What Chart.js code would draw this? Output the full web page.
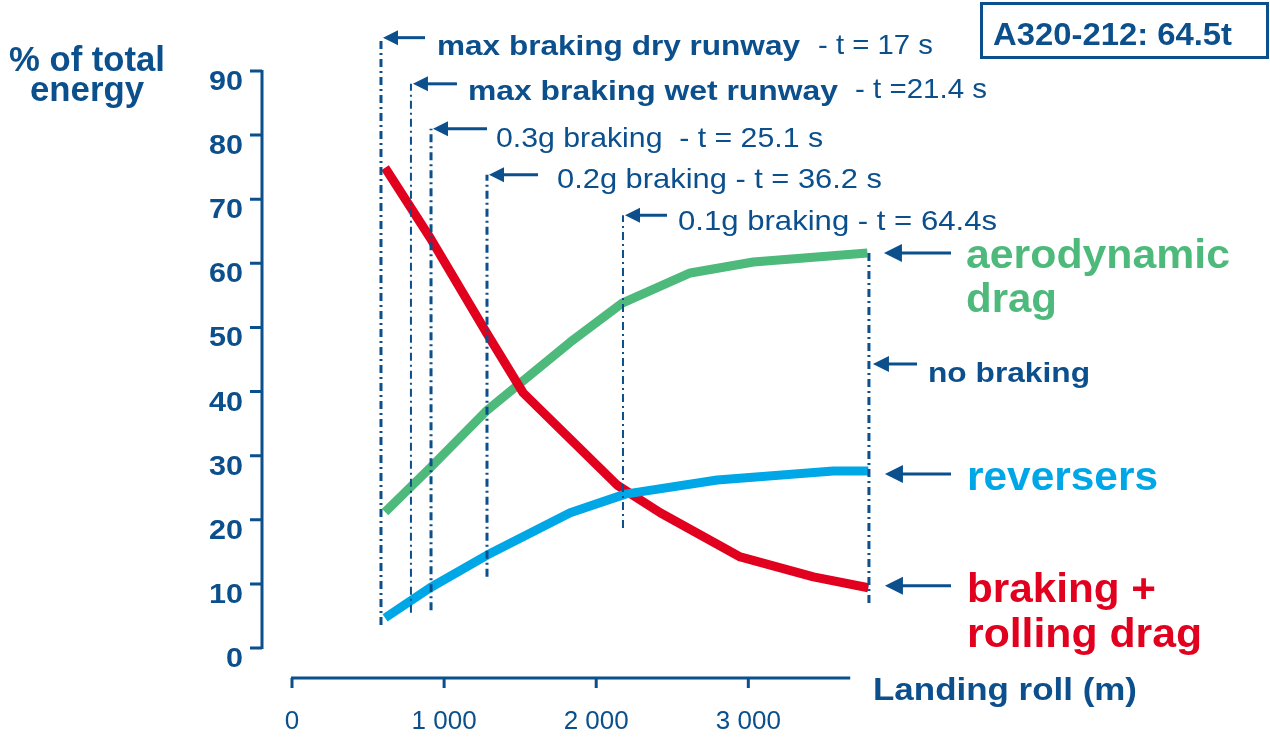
<!DOCTYPE html>
<html>
<head>
<meta charset="utf-8">
<title>A320 landing roll energy</title>
<script src="https://cdn.jsdelivr.net/npm/chart.js@4/dist/chart.umd.min.js"></script>
<style>
  html, body { margin: 0; padding: 0; background: #fff; }
  #wrap { width: 1270px; height: 742px; position: relative; }
</style>
</head>
<body>
<div id="wrap"><canvas id="energyChart"></canvas></div>
<script>
// landing roll (m) / % of total energy
const brakingX = [612, 908, 1283, 1520, 2138, 2421, 2947, 3428, 3789];
const brakingY = [74.9, 64.0, 49.0, 39.8, 25.4, 21.1, 14.2, 11.1, 9.4];
const aeroX = [612, 908, 1283, 1829, 2171, 2618, 3033, 3783];
const aeroY = [21.2, 28.1, 37.1, 47.7, 53.8, 58.5, 60.2, 61.6];
const reverserX = [612, 908, 1283, 1829, 2191, 2796, 3559, 3789];
const reverserY = [4.7, 9.4, 14.5, 21.1, 24.0, 26.2, 27.6, 27.6];

// stop distances for each braking mode (dash-dot markers)
const markerNames = ['max braking dry runway', 'max braking wet runway', '0.3g braking', '0.2g braking', '0.1g braking', 'no braking'];
const markerX = [585, 782, 914, 1282, 2176, 3793];
const markerTop = [95.2, 88.0, 81.0, 73.8, 67.5, 61.6];
const markerBottom = [3.6, 5.5, 5.9, 11.1, 18.7, 7.0];
const markerTimes = ['- t = 17 s', '- t =21.4 s', '- t = 25.1 s', '- t = 36.2 s', '- t = 64.4s', ''];

const yTicks = [0, 10, 20, 30, 40, 50, 60, 70, 80, 90];
const xTicks = [0, 1000, 2000, 3000];
const xTickLabels = ['0', '1 000', '2 000', '3 000'];

const NAVY = '#0b4f8c';
const RED = '#e2001f';
const GREEN = '#4db97a';
const BLUE = '#00a7e7';
const FONT = '"Liberation Sans", Arial, sans-serif';

function pts(xs, ys) { return xs.map((x, i) => ({ x: x, y: ys[i] })); }

function fitText(ctx, s, x, y, size, bold, color, width, align) {
  ctx.save();
  ctx.font = (bold ? 'bold ' : '') + size + 'px ' + FONT;
  ctx.fillStyle = color;
  ctx.textBaseline = 'alphabetic';
  ctx.textAlign = 'left';
  const w = ctx.measureText(s).width;
  const sx = width ? width / w : 1;
  let left = x;
  if (align === 'center') left = x - w * sx / 2;
  else if (align === 'right') left = x - w * sx;
  ctx.translate(left, y);
  ctx.scale(sx, 1);
  ctx.fillText(s, 0, 0);
  ctx.restore();
}

function arrow(ctx, tipX, y, tailX, head) {
  ctx.save();
  ctx.strokeStyle = NAVY;
  ctx.fillStyle = NAVY;
  ctx.lineWidth = 3;
  ctx.beginPath();
  ctx.moveTo(tipX + head - 2, y);
  ctx.lineTo(tailX, y);
  ctx.stroke();
  ctx.beginPath();
  ctx.moveTo(tipX, y);
  ctx.lineTo(tipX + head, y - head * 0.5);
  ctx.lineTo(tipX + head, y + head * 0.5);
  ctx.closePath();
  ctx.fill();
  ctx.restore();
}

const markerSets = markerX.map((mx, i) => ({
  label: markerNames[i],
  data: [{ x: mx, y: markerBottom[i] }, { x: mx, y: markerTop[i] }],
  borderColor: NAVY,
  borderWidth: (i === 1 || i === 4) ? 2 : 3,
  borderDash: [8, 4, 2, 4],
  pointRadius: 0,
  clip: false,
  order: 0,
}));

const slidePlugin = {
  id: 'slide',
  afterDatasetsDraw(chart) {
    const ctx = chart.ctx;
    const xs = chart.scales.x, ys = chart.scales.y;
    const area = chart.chartArea;
    const yAxisX = area.left - 30;
    const xAxisY = area.bottom + 30;

    ctx.save();
    ctx.strokeStyle = NAVY;
    ctx.lineWidth = 3;
    ctx.lineCap = 'butt';
    // y axis with ticks on the left
    ctx.beginPath();
    ctx.moveTo(yAxisX, ys.getPixelForValue(90) - 1);
    ctx.lineTo(yAxisX, ys.getPixelForValue(0) + 1);
    yTicks.forEach(v => {
      const py = ys.getPixelForValue(v);
      ctx.moveTo(yAxisX - 12, py);
      ctx.lineTo(yAxisX, py);
    });
    ctx.stroke();
    // x axis, offset below the plot, ticks pointing down
    ctx.beginPath();
    ctx.moveTo(xs.getPixelForValue(0) - 1, xAxisY);
    ctx.lineTo(xs.getPixelForValue(3670), xAxisY);
    xTicks.forEach(v => {
      const px = xs.getPixelForValue(v);
      ctx.moveTo(px, xAxisY);
      ctx.lineTo(px, xAxisY + 10);
    });
    ctx.stroke();
    ctx.restore();

    yTicks.forEach(v => {
      const py = ys.getPixelForValue(v);
      const s = String(v);
      fitText(ctx, s, yAxisX - 19, py + 19, 27, true, NAVY, s.length === 1 ? 17 : 34, 'right');
    });
    xTicks.forEach((v, i) => {
      fitText(ctx, xTickLabels[i], xs.getPixelForValue(v), 729, 26, false, NAVY, 0, 'center');
    });

    fitText(ctx, '% of total', 87, 71, 35, true, NAVY, 156, 'center');
    fitText(ctx, 'energy', 87, 101, 35, true, NAVY, 114, 'center');
    fitText(ctx, 'Landing roll (m)', 873, 700, 32, true, NAVY, 264);

    // aircraft box
    ctx.save();
    ctx.strokeStyle = NAVY;
    ctx.lineWidth = 3;
    ctx.strokeRect(981.5, 3.5, 286, 54);
    ctx.restore();
    fitText(ctx, 'A320-212: 64.5t', 993, 45, 32, true, NAVY, 239);

    // arrows at the top of each marker line
    const tails = [42, 44, 54, 49, 42];
    for (let i = 0; i < 5; i++) {
      const px = xs.getPixelForValue(markerX[i]) + 2;
      const py = ys.getPixelForValue(markerTop[i]);
      arrow(ctx, px, py, px + tails[i], 15);
    }
    fitText(ctx, markerNames[0], 437, 55, 28, true, NAVY, 363);
    fitText(ctx, markerTimes[0], 818, 54, 28, false, NAVY, 115);
    fitText(ctx, markerNames[1], 468, 100, 28, true, NAVY, 370);
    fitText(ctx, markerTimes[1], 855, 98, 28, false, NAVY, 132);
    fitText(ctx, markerNames[2] + '  ' + markerTimes[2], 496, 147, 28, false, NAVY, 327);
    fitText(ctx, markerNames[3] + ' ' + markerTimes[3], 557, 188, 28, false, NAVY, 325);
    fitText(ctx, markerNames[4] + ' ' + markerTimes[4], 678, 230, 28, false, NAVY, 319);

    // series labels on the right
    const endX = xs.getPixelForValue(markerX[5]);
    arrow(ctx, endX + 15, ys.getPixelForValue(aeroY[aeroY.length - 1]), 951, 18);
    arrow(ctx, endX + 4, ys.getPixelForValue(44.3), 917, 16);
    arrow(ctx, endX + 16, ys.getPixelForValue(reverserY[reverserY.length - 1]) + 3, 951, 18);
    arrow(ctx, endX + 16, ys.getPixelForValue(brakingY[brakingY.length - 1]) - 2, 951, 18);

    fitText(ctx, 'aerodynamic', 966, 268, 40, true, GREEN, 264);
    fitText(ctx, 'drag', 966, 312, 40, true, GREEN, 91);
    fitText(ctx, markerNames[5], 928, 382, 28, true, NAVY, 162);
    fitText(ctx, 'reversers', 967, 490, 40, true, BLUE, 191);
    fitText(ctx, 'braking +', 967, 602, 40, true, RED, 189);
    fitText(ctx, 'rolling drag', 967, 647, 40, true, RED, 235);
  }
};

new Chart(document.getElementById('energyChart'), {
  type: 'line',
  data: {
    datasets: markerSets.concat([
      { label: 'reversers', data: pts(reverserX, reverserY), borderColor: BLUE, order: 1 },
      { label: 'braking + rolling drag', data: pts(brakingX, brakingY), borderColor: RED, order: 2 },
      { label: 'aerodynamic drag', data: pts(aeroX, aeroY), borderColor: GREEN, order: 3 },
    ]),
  },
  options: {
    responsive: true,
    maintainAspectRatio: false,
    animation: false,
    layout: { padding: { left: 292, right: 400, top: 71, bottom: 94 } },
    elements: {
      line: { borderWidth: 9, tension: 0, borderCapStyle: 'butt', borderJoinStyle: 'round', fill: false },
      point: { radius: 0 },
    },
    plugins: { legend: { display: false }, tooltip: { enabled: false } },
    scales: {
      x: { type: 'linear', min: 0, max: 3800, display: false },
      y: { min: 0, max: 90, display: false },
    },
  },
  plugins: [slidePlugin],
});
</script>
</body>
</html>
